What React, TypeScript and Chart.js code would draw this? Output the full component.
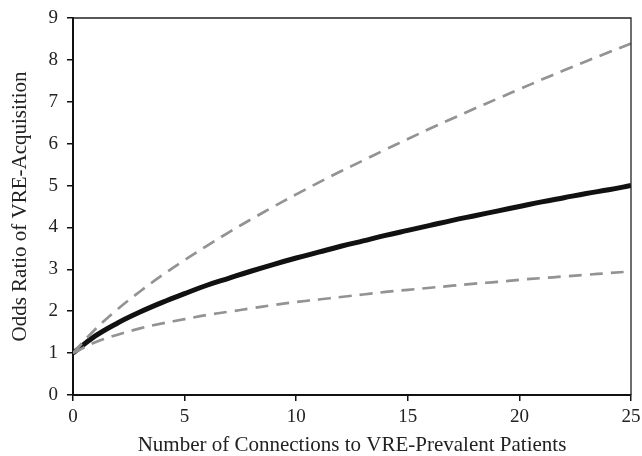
import React, { useEffect, useRef } from "react";
import { Chart, registerables } from "chart.js";

Chart.register(...registerables);

const connections = [0, 1, 2, 3, 4, 5, 6, 7, 8, 9, 10, 11, 12, 13, 14, 15, 16, 17, 18, 19, 20, 21, 22, 23, 24, 25];
const oddsRatio = [1.0, 1.41, 1.72, 1.98, 2.21, 2.42, 2.62, 2.79, 2.96, 3.12, 3.27, 3.41, 3.55, 3.68, 3.81, 3.93, 4.05, 4.17, 4.28, 4.39, 4.5, 4.61, 4.71, 4.81, 4.9, 5.0];
const upperCI = [1.0, 1.57, 2.05, 2.47, 2.86, 3.22, 3.56, 3.89, 4.2, 4.5, 4.79, 5.07, 5.34, 5.6, 5.86, 6.11, 6.36, 6.6, 6.84, 7.07, 7.3, 7.53, 7.75, 7.97, 8.18, 8.39];
const lowerCI = [1.0, 1.26, 1.44, 1.59, 1.71, 1.81, 1.91, 1.99, 2.07, 2.15, 2.22, 2.28, 2.34, 2.4, 2.46, 2.51, 2.56, 2.61, 2.66, 2.7, 2.75, 2.79, 2.83, 2.87, 2.91, 2.95];
const xTicks = [0, 5, 10, 15, 20, 25];
const yTicks = [0, 1, 2, 3, 4, 5, 6, 7, 8, 9];

const FONT = "'Liberation Serif', 'DejaVu Serif', serif";

export default function App() {
  const ref = useRef<HTMLCanvasElement>(null);
  useEffect(() => {
    document.body.style.margin = "0";
    const ctx = ref.current!;
    const toPts = (ys: number[]) => connections.map((x, i) => ({ x, y: ys[i] }));
    const frame = {
      id: "frame",
      afterDraw(chart: any) {
        const { ctx, chartArea: a } = chart;
        ctx.save();
        ctx.strokeStyle = "#222";
        ctx.lineWidth = 1.3;
        ctx.beginPath();
        ctx.moveTo(a.left, a.top);
        ctx.lineTo(a.right, a.top);
        ctx.lineTo(a.right, a.bottom);
        ctx.stroke();
        ctx.restore();
      },
    };
    const chart = new Chart(ctx, {
      type: "line",
      data: {
        datasets: [
          {
            label: "Upper",
            data: toPts(upperCI),
            borderColor: "#939393",
            borderWidth: 2.7,
            borderDash: [13, 8],
            pointRadius: 0,
            tension: 0.4,
            fill: false,
          },
          {
            label: "Lower",
            data: toPts(lowerCI),
            borderColor: "#939393",
            borderWidth: 2.7,
            borderDash: [13, 8],
            pointRadius: 0,
            tension: 0.4,
            fill: false,
          },
          {
            label: "Odds Ratio",
            data: toPts(oddsRatio),
            borderColor: "#111",
            borderWidth: 5,
            pointRadius: 0,
            tension: 0.4,
            fill: false,
          },
        ],
      },
      options: {
        animation: false,
        responsive: false,
        layout: { padding: { top: 18, right: 11, left: 0, bottom: 0 } },
        plugins: { legend: { display: false }, tooltip: { enabled: false } },
        scales: {
          x: {
            type: "linear",
            min: 0,
            max: 25,
            afterBuildTicks: (s: any) => {
              s.ticks = xTicks.map((v) => ({ value: v }));
            },
            afterFit: (s: any) => {
              s.height = 61;
              s.paddingLeft = 0;
              s.paddingRight = 0;
            },
            grid: { drawOnChartArea: false, drawTicks: true, tickLength: 6, color: "#111", lineWidth: 1.5 },
            border: { display: true, color: "#111", width: 2 },
            ticks: { color: "#222", padding: 5, font: { family: FONT, size: 19 }, maxRotation: 0 },
            title: {
              display: true,
              text: "Number of Connections to VRE-Prevalent Patients",
              color: "#222",
              font: { family: FONT, size: 21, lineHeight: 1 },
              padding: { top: 0, bottom: 0 },
            },
          },
          y: {
            min: 0,
            max: 9,
            afterBuildTicks: (s: any) => {
              s.ticks = yTicks.map((v) => ({ value: v }));
            },
            afterFit: (s: any) => {
              s.width = 73;
              s.paddingTop = 0;
              s.paddingBottom = 0;
            },
            grid: { drawOnChartArea: false, drawTicks: true, tickLength: 6, color: "#111", lineWidth: 1.5 },
            border: { display: true, color: "#111", width: 2 },
            ticks: { color: "#222", padding: 9, font: { family: FONT, size: 19 } },
            title: {
              display: true,
              text: "Odds Ratio of VRE-Acquisition",
              color: "#222",
              font: { family: FONT, size: 21 },
              padding: { top: 8, bottom: 0 },
            },
          },
        },
      },
      plugins: [frame],
    });
    return () => chart.destroy();
  }, []);
  return <canvas ref={ref} width={642} height={456} style={{ display: "block" }} />;
}
